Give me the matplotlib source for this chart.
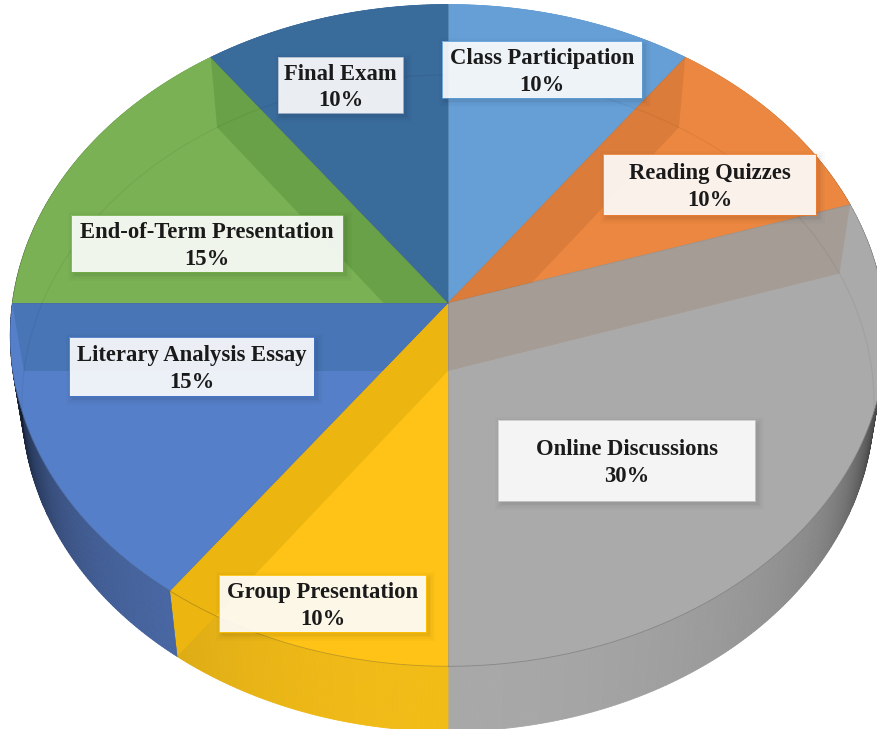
import matplotlib
matplotlib.use('Agg')
import matplotlib.pyplot as plt
from matplotlib.patches import Polygon, Rectangle
import numpy as np

# Chart data
categories = ['Class Participation', 'Reading Quizzes', 'Online Discussions', 'Group Presentation',
              'Literary Analysis Essay', 'End-of-Term Presentation', 'Final Exam']
shares = [10, 10, 30, 10, 15, 15, 10]

# Slice colours: top face, inner wall seen through the top, outer side
top_colors = ['#659fd6', '#eb8740', '#aaaaaa', '#fec316', '#557fc9', '#7ab155', '#396b9b']
wall_colors = ['#659fd6', '#db7c3a', '#a59c96', '#ecb50f', '#4775b5', '#68a147', '#396b9b']
side_colors = ['#659fd6', '#eb8740', '#a8a8a8', '#f2bc17', '#4f70b2', '#7ab155', '#396b9b']
corner_colors = ['#5b9bd5', '#ed7d31', '#c8c8c8', '#ffc000', '#4472c4', '#70ad47', '#aab8c8']

# Label boxes in image pixels: left, right, top, bottom
label_boxes = [(442, 642, 41, 98), (603, 816, 154, 215), (498, 755, 420, 501), (219, 426, 575, 632),
               (69, 314, 337, 396), (71, 343, 215, 272), (278, 403, 57, 113)]

PERSPECTIVE = 0.098


def project(theta, cx, cy, rx, ry):
    """Clockwise angle from 12 o'clock (degrees) to image pixels, with perspective."""
    t = np.radians(theta)
    u, v = np.sin(t), np.cos(t)
    w = 1 + PERSPECTIVE * v
    return cx + rx * u / w, cy - ry * v / w


def top_rim(theta):
    return project(theta, 448, 303, 435.6, 327.7)


def bottom_rim(theta):
    return project(theta, 448, 371, 424, 325)


def side_shade(theta):
    u = abs(np.sin(np.radians(theta)))
    return 1 - 0.25 * u ** 2 - 0.55 * u ** 12


fig = plt.figure(figsize=(8.77, 7.29), dpi=100)
ax = fig.add_axes([0, 0, 1, 1])
ax.set_xlim(0, 877)
ax.set_ylim(729, 0)
ax.axis('off')

edges = 3.6 * np.concatenate(([0], np.cumsum(shares)))

# Outer side, small shaded pieces
for i in range(len(shares)):
    base = np.array(matplotlib.colors.to_rgb(side_colors[i]))
    steps = np.arange(edges[i], edges[i + 1] + 0.01, 0.5)
    for a, b in zip(steps[:-1], steps[1:]):
        x1, y1 = top_rim(np.array([a, b]))
        x2, y2 = bottom_rim(np.array([b, a]))
        c = base * side_shade((a + b) / 2)
        ax.fill(np.r_[x1, x2], np.r_[y1, y2], color=c, lw=0.6, zorder=1)

# Top faces with the slice walls clipped to them
for i in range(len(shares)):
    th = np.linspace(edges[i], edges[i + 1], 120)
    x, y = top_rim(th)
    face = Polygon(np.c_[np.r_[448, x], np.r_[303, y]], closed=True, fc=top_colors[i],
                   ec=top_colors[i], lw=0.4, zorder=2)
    ax.add_patch(face)

    clips = [face]
    if edges[i] >= 180 and edges[i + 1] <= 270:  # only these show the wall on the outer side too
        xs2, ys2 = bottom_rim(th[::-1])
        clips.append(Polygon(np.c_[np.r_[x, xs2], np.r_[y, ys2]], closed=True, transform=ax.transData))

    for edge in (edges[i], edges[i + 1]):
        tx, ty = top_rim(edge)
        bx, by = bottom_rim(edge)
        quad = [(448, 303), (tx, ty), (bx, by), (448, 371)]
        for clip in clips:
            wall = Polygon(quad, closed=True, fc=wall_colors[i], ec='none', zorder=3)
            ax.add_patch(wall)
            wall.set_clip_path(clip)

# Thin line between neighbouring slices
for edge in edges[:-1]:
    tx, ty = top_rim(edge)
    ax.plot([448, tx], [303, ty], color='#555555', alpha=0.15, lw=0.7, zorder=4)

# Bottom rim seen through the top, and the front edge of the top
whole = np.linspace(0, 360, 720)
bx, by = bottom_rim(whole)
tx, ty = top_rim(whole)
disc = Polygon(np.c_[tx, ty], closed=True, transform=ax.transData)
rim_line, = ax.plot(bx, by, color='black', alpha=0.05, lw=0.9, zorder=4)
rim_line.set_clip_path(disc)
front = np.linspace(100, 255, 300)
fx, fy = top_rim(front)
ax.plot(fx, fy, color='#333333', alpha=0.3, lw=0.6, zorder=4)

# Data labels
for i, name in enumerate(categories):
    left, right, upper, lower = label_boxes[i]
    for off, al in ((7, 0.015), (5, 0.02), (3, 0.025), (1.5, 0.03)):
        ax.add_patch(Rectangle((left - off + 4, upper - off + 4), right - left + 2 * off - 2,
                               lower - upper + 2 * off - 2, fc='black', ec='none', alpha=al, zorder=5))
    ax.add_patch(Rectangle((left, upper), right - left, lower - upper, fc='white', alpha=0.9,
                           ec='none', zorder=6))
    ax.add_patch(Rectangle((left, upper), right - left, lower - upper, fc='none',
                           ec=corner_colors[i], lw=0.6, zorder=6))
    ax.text((left + right) / 2, (upper + lower) / 2 + 2.5, f'{name}\n{shares[i]}%', ha='center', va='center',
            family='Liberation Serif', fontweight='bold', fontsize=16.3, color='#1a1a1a',
            linespacing=1.33, zorder=7)

plt.savefig('out.png', dpi=100)
plt.close()
